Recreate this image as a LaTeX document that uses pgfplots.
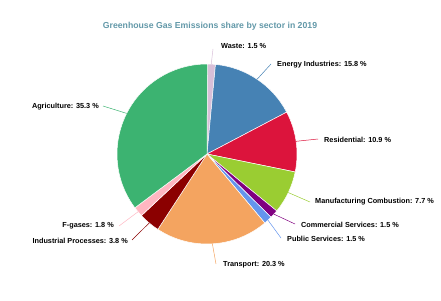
\documentclass[border=0pt]{standalone}
\usepackage{pgfplots}
\pgfplotsset{compat=1.18}
\usepackage{pgfplotstable}
\usepackage{fontspec}
\setmainfont{Liberation Sans}

\definecolor{cWaste}{HTML}{D8BFD8}
\definecolor{cEnergy}{HTML}{4682B4}
\definecolor{cRes}{HTML}{DC143C}
\definecolor{cManu}{HTML}{9ACD32}
\definecolor{cComm}{HTML}{800080}
\definecolor{cPub}{HTML}{6495ED}
\definecolor{cTrans}{HTML}{F4A460}
\definecolor{cInd}{HTML}{8B0000}
\definecolor{cF}{HTML}{FFB6C1}
\definecolor{cAgr}{HTML}{3CB371}
\definecolor{titlec}{RGB}{98,152,168}

% share, colour, name, leader end (px), label anchor point (px), anchor
\pgfplotstableread[col sep=comma]{
share,col,name,ex,ey,lx,ly,anc
1.5,cWaste,Waste,213,49,221,46,west
15.8,cEnergy,Energy Industries,271,64,277,65,west
10.9,cRes,Residential,318,139,324,140,west
7.7,cManu,Manufacturing Combustion,310,202,315,202,west
1.5,cComm,Commercial Services,295,224,301,225,west
1.5,cPub,Public Services,281,238,287,239,west
20.3,cTrans,Transport,216,264,223,265,west
3.8,cInd,Industrial Processes,132,240,128,241,east
1.8,cF,F-gases,119,226,114,226,east
35.3,cAgr,Agriculture,103,106,99,107,east
}\piedata

\begin{document}
\begin{tikzpicture}
\useasboundingbox (0,0) rectangle (441pt,300pt);
\begin{axis}[hide axis, scale only axis, width=441pt, height=300pt,
  xmin=0, xmax=441, ymin=0, ymax=300, clip=false,
  anchor=south west, at={(0,0)}]
\pgfplotstablegetrowsof{\piedata}
\pgfmathtruncatemacro\lastrow{\pgfplotsretval-1}
\xdef\cum{90}
\pgfplotsforeachungrouped \i in {0,...,\lastrow}{%
  \pgfplotstablegetelem{\i}{share}\of\piedata \let\sh\pgfplotsretval
  \pgfplotstablegetelem{\i}{col}\of\piedata \let\cl\pgfplotsretval
  \pgfplotstablegetelem{\i}{name}\of\piedata \let\nm\pgfplotsretval
  \pgfplotstablegetelem{\i}{ex}\of\piedata \let\ex\pgfplotsretval
  \pgfplotstablegetelem{\i}{ey}\of\piedata \let\ey\pgfplotsretval
  \pgfplotstablegetelem{\i}{lx}\of\piedata \let\lx\pgfplotsretval
  \pgfplotstablegetelem{\i}{ly}\of\piedata \let\lyy\pgfplotsretval
  \pgfplotstablegetelem{\i}{anc}\of\piedata \let\anc\pgfplotsretval
  \pgfmathsetmacro\a{\cum}%
  \pgfmathsetmacro\b{\cum-3.6*\sh}%
  \pgfmathsetmacro\m{(\a+\b)/2}%
  \pgfmathsetmacro\sx{207+90*cos(\a)}%
  \pgfmathsetmacro\sy{146+90*sin(\a)}%
  \pgfmathsetmacro\mx{207+90*cos(\m)}%
  \pgfmathsetmacro\my{146+90*sin(\m)}%
  \pgfmathsetmacro\eyy{300-\ey}%
  \pgfmathsetmacro\ly{300-\lyy}%
  \edef\temp{%
    \noexpand\fill[\cl, draw=white, line width=0.5pt] (axis cs:207,146) -- (axis cs:\sx,\sy) arc[start angle=\a, end angle=\b, radius=90pt] -- cycle;
    \noexpand\draw[\cl, line width=0.5pt] (axis cs:\mx,\my) -- (axis cs:\ex,\eyy);
    \noexpand\node[anchor=\anc, inner sep=0pt, font=\noexpand\bfseries\noexpand\fontsize{7.3}{8}\noexpand\selectfont] at (axis cs:\lx,\ly) {\nm: \sh\noexpand\ \noexpand\%};
  }%
  \temp
  \xdef\cum{\b}%
}
\node[font=\bfseries\fontsize{8.7}{10}\selectfont, text=titlec] at (axis cs:210,274) {Greenhouse Gas Emissions share by sector in 2019};
\end{axis}
\end{tikzpicture}
\end{document}
